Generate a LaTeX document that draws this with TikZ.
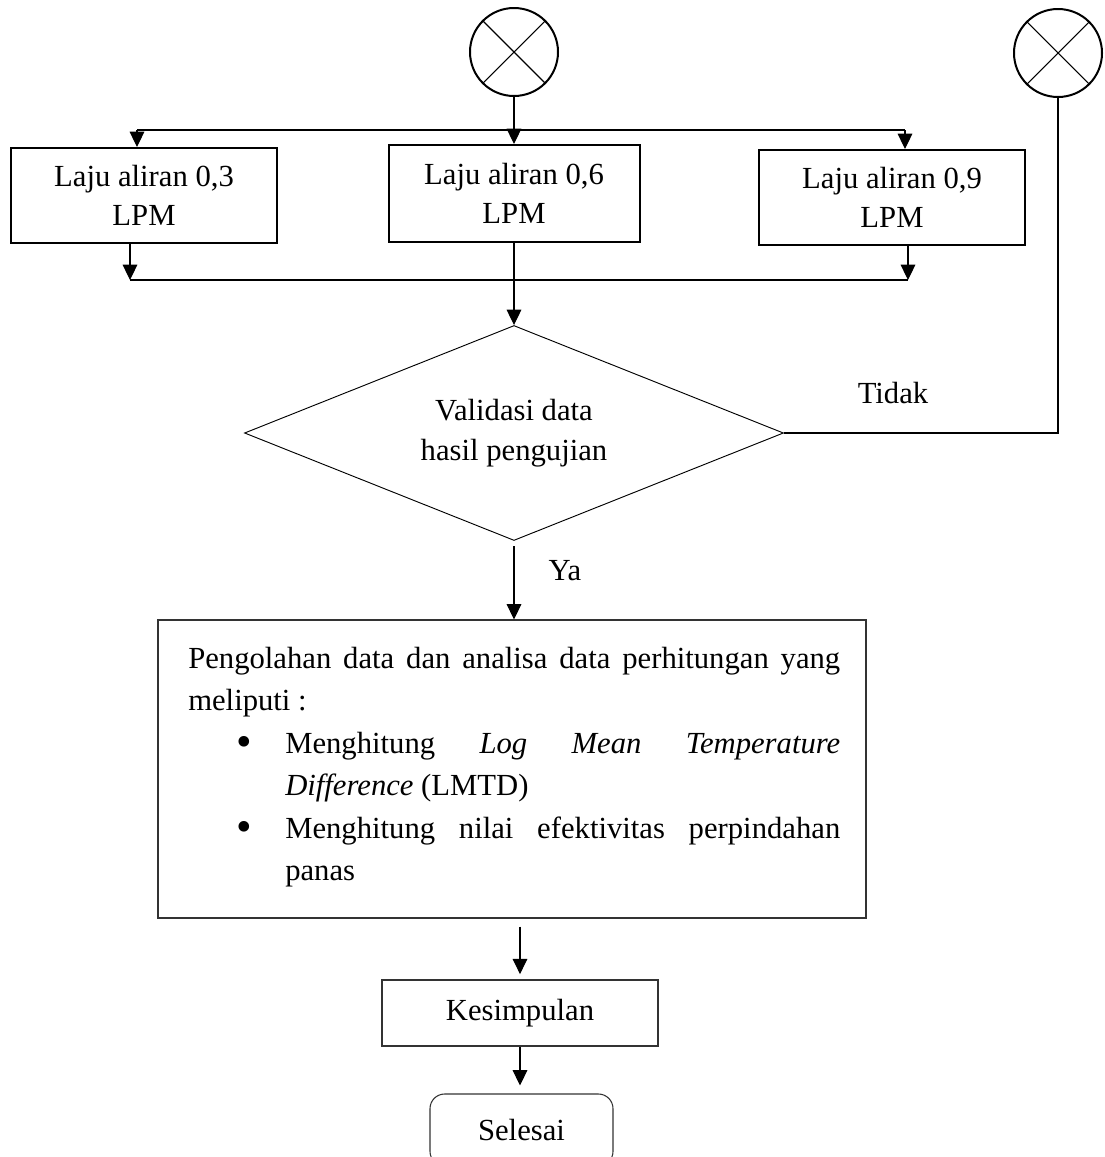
\documentclass[tikz,border=0pt]{standalone}
\usepackage{fontspec}
\setmainfont{Liberation Serif}
\usetikzlibrary{shapes.geometric,arrows.meta}
\newcommand{\bigbul}{\raisebox{-0.11em}{\scalebox{1.45}{\textbullet}}}
\begin{document}
\begin{tikzpicture}[x=0.75pt,y=-0.75pt,
  every node/.style={font=\fontsize{23}{29.25}\selectfont},
  thickbox/.style={draw, line width=1.5pt, align=center, inner sep=0pt},
  thinbox/.style={draw=black!80, line width=0.8pt, align=center, inner sep=0pt},
  conn/.style={line width=0.8pt},
  arr/.style={conn, -{Triangle[length=11.5pt,width=11pt]}},
  xcirc/.style={draw, circle, line width=1.5pt, minimum size=66pt, inner sep=0pt},
  decision/.style={draw, diamond, aspect=2.507, line width=0.7pt, inner sep=0pt, align=center,
                   minimum width=404.25pt, minimum height=161.25pt,
                   font=\fontsize{23}{30}\selectfont},
]
\useasboundingbox (0,0) rectangle (1104,1157);

% connector circles
\node[xcirc] (c1) at (514,52) {};
\node[xcirc] (c2) at (1058,53) {};
\draw[conn] (c1.north east) -- (c1.south west) (c1.north west) -- (c1.south east);
\draw[conn] (c2.north east) -- (c2.south west) (c2.north west) -- (c2.south east);

% flow-rate boxes
\node[thickbox, minimum width=199.5pt, minimum height=71.25pt] (b1) at (144,195.5) {Laju aliran 0,3\\LPM};
\node[thickbox, minimum width=188.25pt, minimum height=72.75pt] (b2) at (514,193.5) {Laju aliran 0,6\\LPM};
\node[thickbox, minimum width=199.5pt, minimum height=71.25pt] (b3) at (892,197.5) {Laju aliran 0,9\\LPM};

% decision
\node[decision] (dia) at (514,433) {Validasi data\\hasil pengujian};

% processing box
\node[thinbox, minimum width=531pt, minimum height=223.5pt] (proc) at (512,769) {};
\node[anchor=base west, inner sep=0pt] (proctxt) at (188,668) {%
\parbox[t]{489pt}{\fontsize{23}{31.9}\selectfont\parindent=0pt\spaceskip=0pt\xspaceskip=0pt
\makebox[489pt][s]{Pengolahan data dan analisa data perhitungan yang}\\
meliputi :\\
\hspace*{36pt}\makebox[36.75pt][l]{\bigbul}\makebox[416.25pt][s]{Menghitung \textit{Log Mean Temperature}}\\
\hspace*{72.75pt}\textit{Difference} (LMTD)\\
\hspace*{36pt}\makebox[36.75pt][l]{\bigbul}\makebox[416.25pt][s]{Menghitung nilai efektivitas perpindahan}\\
\hspace*{72.75pt}panas}};

% conclusion and end
\node[thinbox, minimum width=207pt, minimum height=49.5pt] (kes) at (520,1013) {Kesimpulan};
\node[thinbox, rounded corners=11pt, minimum width=137.25pt, minimum height=54pt] (sel) at (521.5,1130) {Selesai};

% labels
\node (tidak) at (893,393) {Tidak};
\node (ya) at (565,571) {Ya};

% top distribution
\coordinate (tl) at (137,130);
\coordinate (tr) at (905,130);
\draw[arr] (c1.south) -- (b2.north);
\draw[conn] (tl) -- (tr);
\draw[arr] (tl) -- (tl |- b1.north);
\draw[arr] (tr) -- (tr |- b3.north);

% collection
\coordinate (bl) at (130,280);
\coordinate (br) at (908,280);
\draw[arr] (bl |- b1.south) -- (bl);
\draw[arr] (br |- b3.south) -- (br);
\draw[conn] (bl) -- (br);
\draw[arr] (b2.south) -- (dia.north);

% no branch
\coordinate (tk) at (1058,433);
\draw[conn] (dia.east) -- (tk) -- (c2.south);

% yes branch and rest
\draw[arr, shorten <=4pt] (dia.south) -- (dia.south |- proc.north);
\draw[arr, shorten <=6pt, shorten >=4pt] (kes.north |- proc.south) -- (kes.north);
\draw[arr, shorten >=6pt] (kes.south) -- (kes.south |- sel.north);
\end{tikzpicture}
\end{document}
